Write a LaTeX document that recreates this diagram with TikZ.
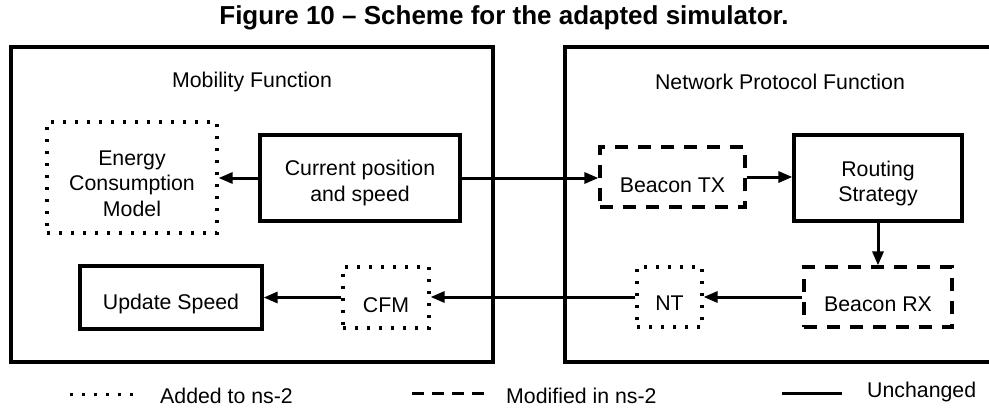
\documentclass[tikz,border=0pt]{standalone}
\usepackage{fontspec}
\setmainfont{Liberation Sans}
\usetikzlibrary{arrows.meta}

\tikzset{
  txt/.style={font=\fontsize{21.3}{25.5}\selectfont, align=center, text=black, inner sep=0pt},
  blk/.style={draw=black, line width=3.2pt, rectangle, inner sep=0pt},
  solidbox/.style={blk},
  dotbox/.style={blk, dash pattern=on 3pt off 9pt},
  dashbox/.style={blk, dash pattern=on 13pt off 10pt},
  frame/.style={draw=black, line width=3.2pt},
  conn/.style={line width=3pt, -{Triangle[length=14pt,width=11pt]}},
}

\begin{document}
\begin{tikzpicture}[x=1pt,y=-1pt]
  \useasboundingbox (0,0) rectangle (989,408);

  % title
  \node[font=\fontsize{26}{30}\selectfont\bfseries] (title) at (504,18)
    {Figure 10 -- Scheme for the adapted simulator.};

  % the two function frames
  \begin{scope}
    \clip (0,0) rectangle (989,408);
    \draw[frame] (11,47) rectangle (493,362);
    \draw[frame] (565,47) rectangle (1000,362);
  \end{scope}
  \node[txt] (mobf) at (252,82) {Mobility Function};
  \node[txt] (netf) at (780,82) {Network Protocol Function};

  % blocks
  \node[dotbox, minimum width=170pt, minimum height=111pt] (energy) at (132,177.5) {};
  \node[solidbox, minimum width=200pt, minimum height=86pt] (curpos) at (360,178) {};
  \node[dashbox, minimum width=145pt, minimum height=60pt] (btx) at (672.5,177) {};
  \node[solidbox, minimum width=168pt, minimum height=86pt] (route) at (878,178) {};
  \node[dashbox, minimum width=148pt, minimum height=60pt] (brx) at (878,297) {};
  \node[dotbox, minimum width=65pt, minimum height=60pt] (nt) at (669.5,297) {};
  \node[dotbox, minimum width=86pt, minimum height=61pt] (cfm) at (386,297.5) {};
  \node[solidbox, minimum width=182pt, minimum height=63pt] (upd) at (171,297.5) {};

  % block labels, set a little below the box centres
  \node[txt] (energyT) at ([yshift=-6pt]energy.center) {Energy\\Consumption\\Model};
  \node[txt] (curposT) at ([yshift=-5pt]curpos.center) {Current position\\and speed};
  \node[txt] (btxT) at ([yshift=-8pt]btx.center) {Beacon TX};
  \node[txt] (routeT) at ([yshift=-5.5pt]route.center) {Routing\\Strategy};
  \node[txt] (brxT) at ([yshift=-7pt]brx.center) {Beacon RX};
  \node[txt] (ntT) at ([yshift=-6pt]nt.center) {NT};
  \node[txt] (cfmT) at ([yshift=-7.5pt]cfm.center) {CFM};
  \node[txt] (updT) at ([yshift=-6pt]upd.center) {Update Speed};

  % connectors
  \draw[conn] (curpos.west) -- (curpos.west -| energy.east);
  \draw[conn] (curpos.east) -- (curpos.east -| btx.west);
  \draw[conn] (btx.east) -- (btx.east -| route.west);
  \draw[conn] (route.south) -- (brx.north);
  \draw[conn] (brx.west) -- (brx.west -| nt.east);
  \draw[conn] (nt.west) -- (nt.west -| cfm.east);
  \draw[conn] (cfm.west) -- (cfm.west -| upd.east);

  % legend
  \coordinate (ladd1) at (70,394);
  \coordinate (ladd2) at (133,394);
  \coordinate (lmod1) at (412,393);
  \coordinate (lmod2) at (486,393);
  \coordinate (lunc1) at (782,393);
  \coordinate (lunc2) at (842,393);
  \draw[line width=3pt, dash pattern=on 3pt off 9pt] (ladd1) -- (ladd2);
  \draw[line width=3pt, dash pattern=on 12pt off 8pt] (lmod1) -- (lmod2);
  \draw[line width=3pt] (lunc1) -- (lunc2);
  \node[txt, anchor=west] (tadd) at (160,396) {Added to ns-2};
  \node[txt, anchor=west] (tmod) at (506,396) {Modified in ns-2};
  \node[txt, anchor=west] (tunc) at (867,391.5) {Unchanged};
\end{tikzpicture}
\end{document}
